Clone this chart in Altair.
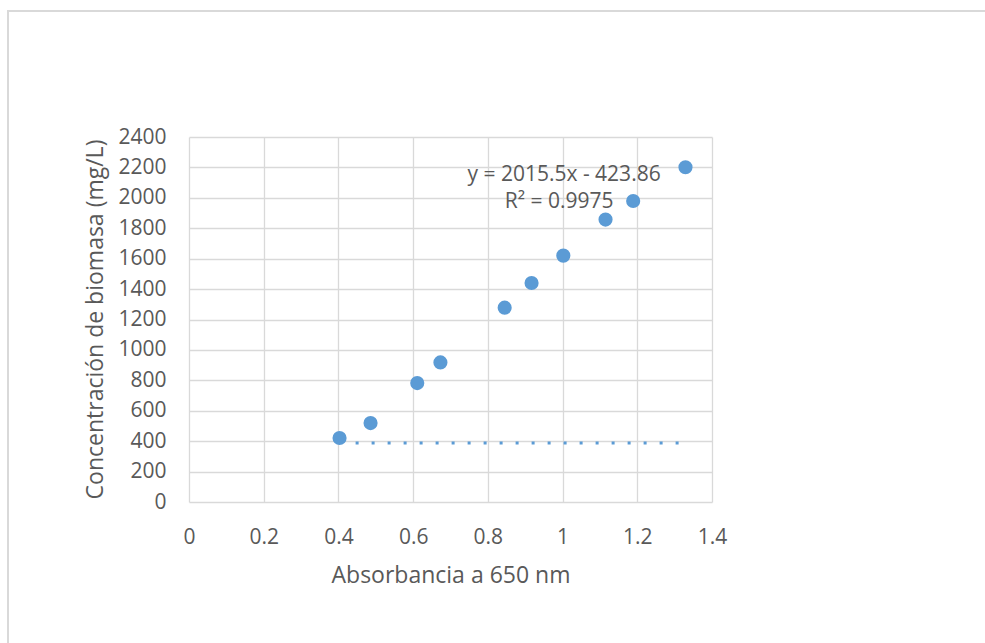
import altair as alt
import pandas as pd

# Data
absorbance = [0.403, 0.486, 0.611, 0.673, 0.845, 0.917, 1.002, 1.115, 1.189, 1.329]
biomass = [421, 519, 782, 918, 1278, 1440, 1620, 1857, 1979, 2201]

trend_x = [0.446, 1.311]
trend_y = [388, 388]

eq_labels = ["y = 2015.5x - 423.86", "R² = 0.9975"]
eq_x = [1.004, 0.991]
eq_y = [2148, 1973]

x_ticks = [0, 0.2, 0.4, 0.6, 0.8, 1.0, 1.2, 1.4]
y_ticks = [0, 200, 400, 600, 800, 1000, 1200, 1400, 1600, 1800, 2000, 2200, 2400]

FONT = "Open Sans"
TXT = "#595959"
GRID = "#d9d9d9"
BLUE = "#5b9bd5"

pts = pd.DataFrame({"x": absorbance, "y": biomass})
trend = pd.DataFrame({"x": trend_x, "y": trend_y})
eq = pd.DataFrame({"label": eq_labels, "x": eq_x, "y": eq_y})

xscale = alt.Scale(domain=[0, 1.4], nice=False, zero=True)
yscale = alt.Scale(domain=[0, 2400], nice=False, zero=True)

xaxis = alt.Axis(
    title="Absorbancia a 650 nm", values=x_ticks, grid=True, gridColor=GRID,
    gridWidth=1.3, domain=False, ticks=False, tickSize=0, labelPadding=24,
    labelExpr="toString(round(datum.value * 10) / 10)", labelOverlap=False,
    labelFont=FONT, labelFontSize=21, labelColor=TXT, labelFlush=False,
    titleFont=FONT, titleFontSize=23, titleColor=TXT, titleFontWeight="normal",
    titleY=73, titleBaseline="middle",
)
yaxis = alt.Axis(
    title="Concentración de biomasa (mg/L)", values=y_ticks, grid=True,
    gridColor=GRID, gridWidth=1.3, domain=False, ticks=False, tickSize=0,
    labelPadding=23, format="d", labelOverlap=False,
    labelFont=FONT, labelFontSize=21, labelColor=TXT, labelFlush=False,
    titleFont=FONT, titleFontSize=23, titleColor=TXT, titleFontWeight="normal",
    titleX=-94, titleY=182, titleAngle=-90, titleBaseline="middle", titleAlign="center",
)

def X():
    return alt.X("x:Q", scale=xscale, axis=xaxis)

def Y():
    return alt.Y("y:Q", scale=yscale, axis=yaxis)

frame = alt.Chart(pd.DataFrame({"a": [0]})).mark_rect(
    fill=None, stroke=GRID, strokeWidth=2
).encode(
    x=alt.value(-181), x2=alt.value(806), y=alt.value(-126), y2=alt.value(516)
)

points = alt.Chart(pts).mark_circle(size=200, color=BLUE, opacity=1).encode(x=X(), y=Y())

trendline = alt.Chart(trend).mark_line(
    color=BLUE, strokeWidth=3, strokeDash=[3, 13]
).encode(x=X(), y=Y())

text = alt.Chart(eq).mark_text(
    font=FONT, fontSize=21, color=TXT, align="center", baseline="middle"
).encode(x=X(), y=Y(), text="label:N")

chart = alt.layer(points, trendline, text, frame).properties(
    width=523, height=365,
    autosize=alt.AutoSizeParams(type="none"),
    padding={"left": 189, "top": 137, "right": 273, "bottom": 141},
    background="white",
).configure_view(stroke=None)

chart.save("out.html", embed_options={"renderer": "svg", "actions": False})
